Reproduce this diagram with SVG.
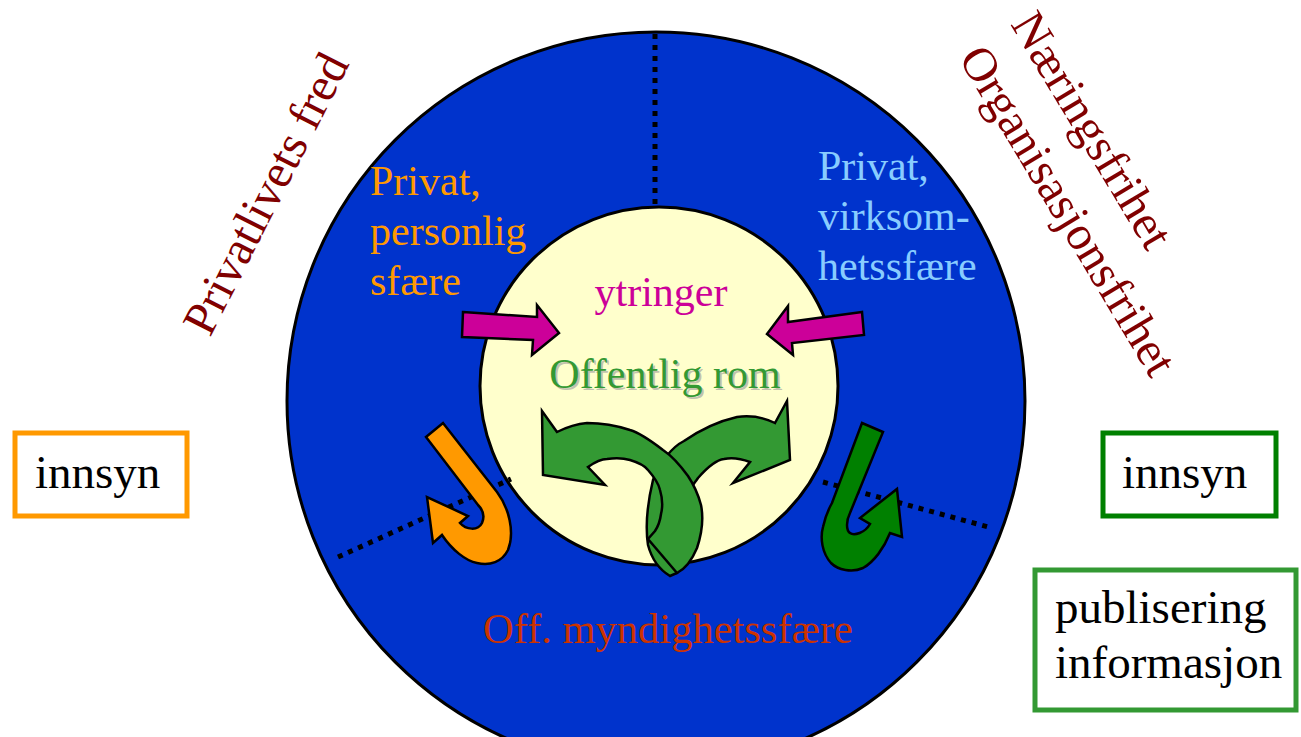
<svg xmlns="http://www.w3.org/2000/svg" width="1301" height="737" viewBox="0 0 1301 737">
<style>
text{font-family:"Liberation Serif","Times New Roman",serif}
.lbl{font-size:42px}
.rot{font-size:48px;fill:#800000}
.box{fill:#fff;stroke-width:5}
.btxt{font-size:47px;fill:#000}
.dot{stroke:#000;stroke-width:5;stroke-dasharray:5 6;fill:none}
.arr{stroke:#000;stroke-width:2.5;stroke-linejoin:miter}
</style>
<rect width="1301" height="737" fill="#fff"/>
<g id="outer-circle">
<circle cx="656" cy="401" r="369" fill="#0033CC" stroke="#000" stroke-width="3"/>
</g>
<g id="inner-circle">
<circle cx="659" cy="386" r="179" fill="#FFFFCC" stroke="#000" stroke-width="3"/>
</g>
<g id="connectors">
<line class="dot" x1="655" y1="34" x2="655" y2="207"/>
<line class="dot" x1="338" y1="557" x2="511" y2="479"/>
<line class="dot" x1="823" y1="482" x2="992" y2="528"/>
</g>
<g id="label-privat-personlig">
<text class="lbl" fill="#FF9900"><tspan x="370" y="195">Privat,</tspan><tspan x="370" y="245">personlig</tspan><tspan x="370" y="295">sfære</tspan></text>
</g>
<g id="label-privat-virksomhet">
<text class="lbl" fill="#88CCFF"><tspan x="818" y="180">Privat,</tspan><tspan x="818" y="230">virksom-</tspan><tspan x="818" y="280">hetssfære</tspan></text>
</g>
<g id="label-ytringer">
<text x="661" y="306" font-size="42" fill="#CC0099" text-anchor="middle">ytringer</text>
</g>
<g id="label-offentlig-rom">
<text x="667" y="390" font-size="42" fill="#999" fill-opacity="0.6" text-anchor="middle">Offentlig rom</text>
<text x="665" y="388" font-size="42" fill="#339933" text-anchor="middle">Offentlig rom</text>
</g>
<g id="label-off-myndighet">
<text x="668" y="643" font-size="42.5" fill="#CC3300" text-anchor="middle">Off. myndighetssfære</text>
</g>
<g id="arrow-ytringer-left">
<path class="arr" fill="#CC0099" d="M463,312 L537,317 L537,305 L559,333 L532,355 L533,340 L462,337 Z"/>
</g>
<g id="arrow-ytringer-right">
<path class="arr" fill="#CC0099" d="M862,312 L788,322 L788,306 L767,334 L793,355 L792,343 L864,335 Z"/>
</g>
<g id="arrow-orange-hook">
<path class="arr" fill="#FF9900" d="M426,437 L443,423 L497,492 C509,508 515,532 508,550 C502,562 490,566 477,563 C466,561 452,550 442,535 L433,543 L427,497 L468,516 L460,523 C466,530 478,531 482,523 C485,516 483,510 478,505 Z"/>
</g>
<g id="arrow-green-hook">
<path class="arr" fill="#008000" d="M862,423 L883,432 L850,513 C846,521 846,530 850,533 C854,536 865,533 870,524 L860,518 L897,489 L902,537 L890,533 C884,548 874,562 863,568 C852,573 838,570 831,563 C822,553 820,538 823,527 C825,518 828,510 832,503 Z"/>
</g>
<g id="arrows-offentlig-rom">
<path class="arr" fill="#339933" d="M775,423 L787,401 L790,460 L733,483 L750,462 C742,459 733,457 724,459 C715,460 705,470 698,478 C688,492 678,505 676,515 C673,528 673,545 677,573 L670,576 C660,570 652,560 648,545 C645,525 647,505 653,480 C660,462 672,447 684,441 C700,430 715,422 737,417 C752,415 765,418 775,423 Z"/>
<path class="arr" fill="#339933" d="M557,432 L542,411 L543,475 L605,485 L588,467 C595,462 600,459 607,459 C615,458 623,458 630,460 C640,463 645,466 648,470 C655,478 659,485 660,490 C663,500 662,510 661,514 C660,522 657,528 655,531 L648,539 L677,573 C685,569 692,560 697,548 C703,530 703,515 701,505 C697,490 692,482 688,476 C680,465 672,456 663,450 C650,440 640,433 630,430 C615,425 600,423 587,423 C575,424 565,428 557,432 Z"/>
</g>
<g id="label-privatlivets-fred">
<text class="rot" font-size="47" transform="translate(210,338) rotate(-63)">Privatlivets fred</text>
</g>
<g id="label-naeringsfrihet">
<text class="rot" transform="translate(1010,24) rotate(59)">Næringsfrihet</text>
<text class="rot" transform="translate(958,58) rotate(59)">Organisasjonsfrihet</text>
</g>
<g id="box-innsyn-left">
<rect class="box" x="15" y="433" width="172" height="83" stroke="#FF9900"/>
<text class="btxt" x="35" y="488">innsyn</text>
</g>
<g id="box-innsyn-right">
<rect class="box" x="1103" y="433" width="173" height="83" stroke="#008000"/>
<text class="btxt" x="1122" y="488">innsyn</text>
</g>
<g id="box-publisering">
<rect class="box" x="1035" y="570" width="261" height="140" stroke="#339933"/>
<text class="btxt"><tspan x="1055" y="623">publisering</tspan><tspan x="1055" y="678">informasjon</tspan></text>
</g>
</svg>
